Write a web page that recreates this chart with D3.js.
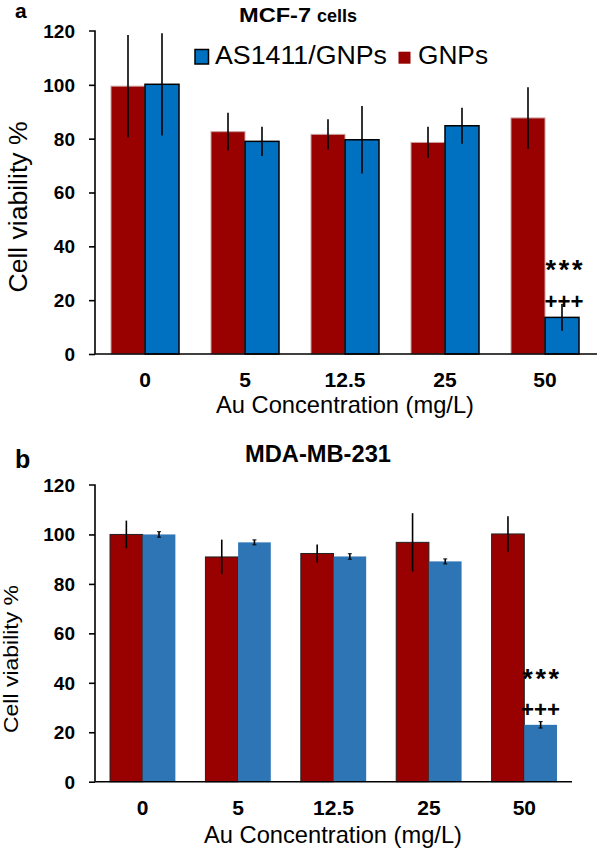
<!DOCTYPE html>
<html><head><meta charset="utf-8">
<script src="https://cdn.jsdelivr.net/npm/d3@7"></script>
<style>body{margin:0;background:#fff}svg{display:block}text{font-family:"Liberation Sans",Arial,sans-serif}</style>
</head><body><svg id="c" width="597" height="848"></svg>
<script>
const categories = ["0", "5", "12.5", "25", "50"];
const seriesNames = ["GNPs", "AS1411/GNPs"];
const yTicks = [0, 20, 40, 60, 80, 100, 120];

const mcfGNPs = [99.5, 82.6, 81.6, 78.6, 87.7];
const mcfGNPsErr = [19, 7, 5.6, 5.8, 11.4];
const mcfApt = [100.2, 79.0, 79.6, 84.8, 13.6];
const mcfAptErr = [19, 5.4, 12.5, 6.7, 5.0];

const mdaGNPs = [100, 90.9, 92.3, 96.8, 100.2];
const mdaGNPsErr = [5.6, 7.0, 3.6, 11.8, 7.2];
const mdaApt = [100, 96.8, 91.1, 89.1, 23.0];
const mdaAptErr = [1.1, 1.0, 1.1, 1.0, 1.3];

const svg = d3.select("#c");

function panel(o) {
  const g = svg.append("g");
  const x0 = d3.scaleBand().domain(categories).range([95, o.xEnd]).paddingInner(o.pad).paddingOuter(o.pad / 2);
  const x1 = d3.scaleBand().domain(seriesNames).range([0, x0.bandwidth()]);
  const y = d3.scaleLinear().domain([0, 120]).range([o.y0, o.y120]);

  const series = [
    {name: "GNPs", vals: o.gnps, errs: o.gnpsErr, fill: "#990000", stroke: o.redStroke, sw: o.redSW, cap: 0},
    {name: "AS1411/GNPs", vals: o.apt, errs: o.aptErr, fill: o.blue, stroke: o.blueStroke, sw: o.blueSW, cap: o.cap}
  ];
  series.forEach(s => {
    const gg = g.append("g");
    gg.selectAll("rect").data(categories).join("rect")
      .attr("x", (c) => x0(c) + x1(s.name))
      .attr("width", x1.bandwidth())
      .attr("y", (c, i) => y(s.vals[i]))
      .attr("height", (c, i) => y(0) - y(s.vals[i]))
      .attr("fill", s.fill).attr("stroke", s.stroke).attr("stroke-width", s.sw);
    gg.selectAll("line.e").data(categories).join("line").attr("class", "e")
      .attr("x1", c => x0(c) + x1(s.name) + x1.bandwidth() / 2)
      .attr("x2", c => x0(c) + x1(s.name) + x1.bandwidth() / 2)
      .attr("y1", (c, i) => y(s.vals[i] + s.errs[i]))
      .attr("y2", (c, i) => y(s.vals[i] - s.errs[i]))
      .attr("stroke", "#000").attr("stroke-width", 1.6);
    if (s.cap > 0) {
      ["top", "bot"].forEach(k => {
        gg.selectAll("line.c" + k).data(categories).join("line").attr("class", "c" + k)
          .attr("x1", c => x0(c) + x1(s.name) + x1.bandwidth() / 2 - s.cap / 2)
          .attr("x2", c => x0(c) + x1(s.name) + x1.bandwidth() / 2 + s.cap / 2)
          .attr("y1", (c, i) => y(s.vals[i] + (k === "top" ? 1 : -1) * s.errs[i]))
          .attr("y2", (c, i) => y(s.vals[i] + (k === "top" ? 1 : -1) * s.errs[i]))
          .attr("stroke", "#000").attr("stroke-width", 1);
      });
    }
  });

  // y axis
  const ya = g.append("g").attr("transform", "translate(95,0)")
    .call(d3.axisLeft(y).tickValues(yTicks).tickSize(6).tickPadding(14));
  ya.select(".domain").attr("stroke", "#000").attr("stroke-width", 1.6).attr("d", `M-6,${y(120)}H0V${y(0)}`);
  ya.selectAll(".tick line").attr("stroke", "#000").attr("stroke-width", 1.6);
  ya.selectAll(".tick text").attr("font-size", 19).attr("font-weight", "bold").attr("fill", "#000")
    .attr("font-family", "Liberation Sans, Arial, sans-serif").attr("x", -20).attr("dy", "0.34em");
  ya.selectAll(".tick").filter(d => d === 120).select("line").remove();

  // x axis
  const xa = g.append("g").attr("transform", `translate(0,${y(0)})`)
    .call(d3.axisBottom(x0).tickSize(0).tickPadding(0));
  xa.select(".domain").attr("stroke", "#000").attr("stroke-width", 1.6).attr("d", `M95,0H${o.axisEnd}`);
  xa.selectAll(".tick text").attr("font-size", 21).attr("font-weight", "bold").attr("fill", "#000")
    .attr("font-family", "Liberation Sans, Arial, sans-serif").attr("y", o.xtBase - y(0)).attr("dy", 0);

  g.append("text").attr("x", o.xtX).attr("y", o.xtitleBase).attr("font-size", 24)
    .attr("textLength", 258).attr("lengthAdjust", "spacingAndGlyphs").text("Au Concentration (mg/L)");

  g.append("text").attr("transform", `translate(${o.ylX},${o.ylY}) rotate(-90)`)
    .attr("text-anchor", "middle").attr("font-size", o.ylSize)
    .attr("textLength", o.ylLen).attr("lengthAdjust", "spacingAndGlyphs").text("Cell viability %");

  // annotations
  const lastC = categories[categories.length - 1];
  const ax = x0(lastC) + x1("AS1411/GNPs") + x1.bandwidth() / 2 + o.annDx;
  g.append("text").attr("x", ax).attr("y", o.starBase).attr("text-anchor", "middle").attr("font-size", 27)
    .attr("font-weight", "bold").attr("textLength", 37).attr("lengthAdjust", "spacing").text("***");
  g.append("text").attr("x", ax).attr("y", o.plusBase).attr("text-anchor", "middle").attr("font-size", 22)
    .attr("font-weight", "bold").attr("textLength", 39).attr("lengthAdjust", "spacingAndGlyphs").text("+++");
  return g;
}

panel({xEnd: 595, axisEnd: 597, pad: 0.32, y0: 354, y120: 31,
  gnps: mcfGNPs, gnpsErr: mcfGNPsErr, apt: mcfApt, aptErr: mcfAptErr,
  blue: "#0070c0", blueStroke: "#000", blueSW: 1.5, redStroke: "#c9a0a0", redSW: 1, cap: 0,
  xtBase: 387, xtitleBase: 413, xtX: 216, ylX: 27, ylY: 207, ylSize: 25, ylLen: 171,
  annDx: 2, starBase: 279, plusBase: 309});

panel({xEnd: 572, axisEnd: 572, pad: 0.315, y0: 781.7, y120: 485,
  gnps: mdaGNPs, gnpsErr: mdaGNPsErr, apt: mdaApt, aptErr: mdaAptErr,
  blue: "#2e75b6", blueStroke: "none", blueSW: 0, redStroke: "#222", redSW: 1, cap: 4,
  xtBase: 815, xtitleBase: 843, xtX: 204, ylX: 18, ylY: 659, ylSize: 20, ylLen: 148,
  annDx: 0, starBase: 688, plusBase: 717});

// titles and legend
svg.append("text").attr("x", 15).attr("y", 18).attr("font-size", 21).attr("font-weight", "bold").text("a");
svg.append("text").attr("x", 15).attr("y", 468).attr("font-size", 25).attr("font-weight", "bold").text("b");
svg.append("text").attr("x", 239).attr("y", 22).attr("font-size", 21).attr("font-weight", "bold")
  .attr("textLength", 72).attr("lengthAdjust", "spacingAndGlyphs").text("MCF-7");
svg.append("text").attr("x", 317).attr("y", 22).attr("font-size", 18).attr("font-weight", "bold")
  .attr("font-family", "Lato, sans-serif").attr("textLength", 40).attr("lengthAdjust", "spacingAndGlyphs").text("cells");
svg.append("text").attr("x", 245).attr("y", 462).attr("font-size", 23).attr("font-weight", "bold")
  .attr("textLength", 146).attr("lengthAdjust", "spacingAndGlyphs").text("MDA-MB-231");

const legend = [
  {name: "AS1411/GNPs", color: "#0070c0", stroke: "#000", rx: 195, ry: 49.5, rw: 13.5, rh: 14.5, tx: 215, len: 172},
  {name: "GNPs", color: "#990000", stroke: "none", rx: 398.5, ry: 51.7, rw: 12, rh: 12, tx: 418, len: 70}
];
const lg = svg.append("g");
lg.selectAll("rect").data(legend).join("rect")
  .attr("x", d => d.rx).attr("y", d => d.ry).attr("width", d => d.rw).attr("height", d => d.rh)
  .attr("fill", d => d.color).attr("stroke", d => d.stroke).attr("stroke-width", 1.5);
lg.selectAll("text").data(legend).join("text")
  .attr("x", d => d.tx).attr("y", 63.5).attr("font-size", 26)
  .attr("textLength", d => d.len).attr("lengthAdjust", "spacingAndGlyphs").text(d => d.name);
</script></body></html>
